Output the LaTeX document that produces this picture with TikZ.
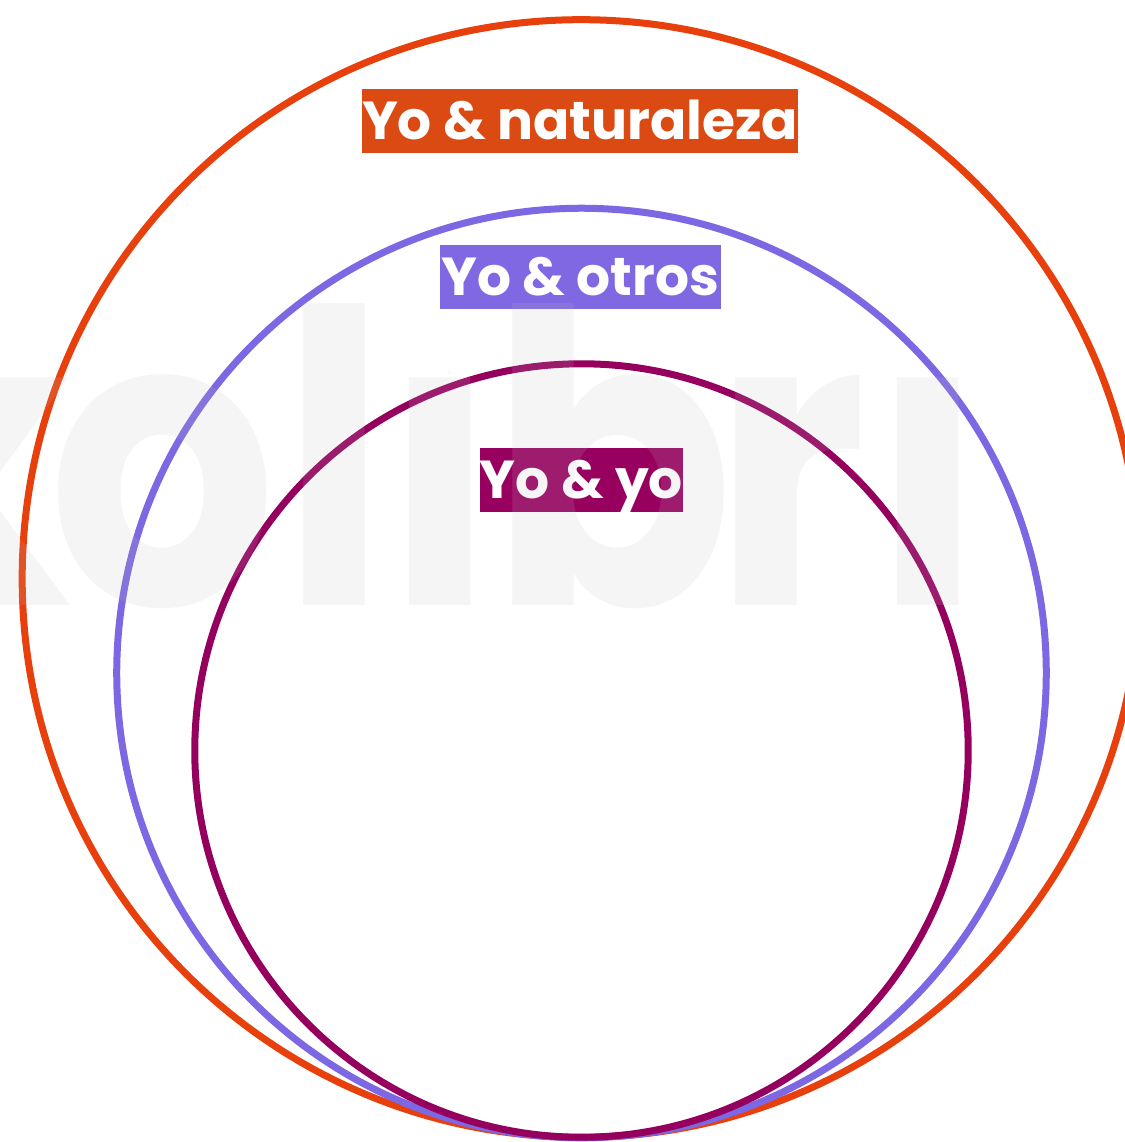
\documentclass[tikz,border=0pt]{standalone}
\usepackage{fontspec}
\newfontfamily\tagfont{Poppins}
\newfontfamily\markfont{Poppins}[FakeStretch=0.88]
\definecolor{natring}{HTML}{E8400C}
\definecolor{nattag}{HTML}{DA4A12}
\definecolor{otring}{HTML}{7D67E2}
\definecolor{ottag}{HTML}{8068E3}
\definecolor{yoring}{HTML}{95005F}
\definecolor{yotag}{HTML}{980060}
\definecolor{markgray}{RGB}{190,190,190}
\tikzset{
  ring/.style={draw=#1, line width=0.07cm},
  tag/.style={fill=#1, text=white, inner sep=0pt, minimum height=0.64cm,
    text height=0.36cm, text depth=0cm, font=\tagfont\bfseries\fontsize{15.2pt}{15.2pt}\selectfont},
  markletter/.style={anchor=base, inner sep=0pt, text=markgray, text opacity=0.15,
    font=\markfont\bfseries\fontsize{116pt}{116pt}\selectfont}
}
\begin{document}
\begin{tikzpicture}[x=0.01cm,y=-0.01cm]
\useasboundingbox (0,0) rectangle (1125,1142);
\fill[white] (0,0) rectangle (1125,1142);
\clip (0,0) rectangle (1125,1142);

\draw[ring=natring] (581,578.5) circle[radius=5.585cm];
\draw[ring=otring] (581.5,673) circle[radius=4.645cm];
\draw[ring=yoring] (581.5,750.5) circle[radius=3.865cm];

\node[tag=nattag, minimum width=4.32cm] (naturaleza) at (580,121) {Yo \& naturaleza};
\node[tag=ottag, minimum width=2.81cm] (otros) at (580.5,277) {Yo \& otros};
\node[tag=yotag, minimum width=2.03cm] (yo) at (581.5,480) {Yo \& yo};

% watermark
\node[markletter] (wk) at (-40,605) {k};
\node[markletter] (wo) at (162.5,605) {o};
\node[markletter] (wl) at (334.5,605) {l};
\node[markletter] (wi) at (440,605) {ı};
\node[markletter] (wb) at (612,605) {b};
\node[markletter] (wr) at (790,605) {r};
\node[markletter] (wii) at (928,605) {ı};
\end{tikzpicture}
\end{document}
